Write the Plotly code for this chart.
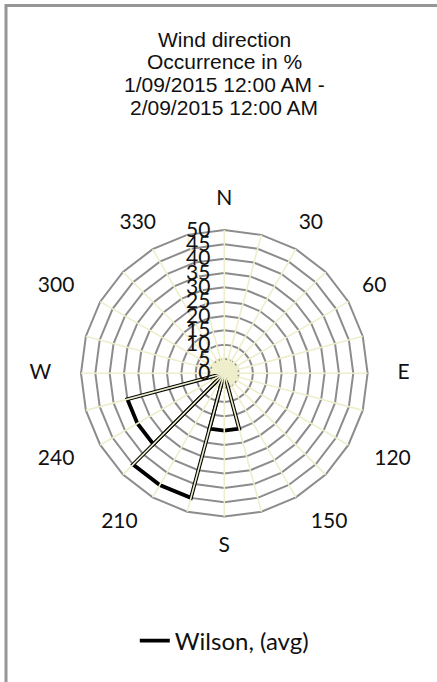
import plotly.graph_objects as go

# ---- data ----
spoke_angles = [str(a) for a in range(0, 360, 15)]           # 24 spokes
label_angles = [str(a) for a in range(0, 360, 30)]
label_text = ["N", "30", "60", "E", "120", "150", "S", "210", "240", "W", "300", "330"]
sector_dirs = [0, 30, 60, 90, 120, 150, 180, 210, 240, 270, 300, 330]
sector_pct = [0, 0, 0, 0, 0, 0, 20, 45, 35, 0, 0, 0]
radial_ticks = [0, 5, 10, 15, 20, 25, 30, 35, 40, 45, 50]
series_name = "Wilson, (avg)"
title_lines = ["Wind direction", "Occurrence in %", "1/09/2015 12:00 AM -", "2/09/2015 12:00 AM"]

# ---- style ----
CREAM = "rgb(238,238,204)"
GRAY = "rgb(140,140,140)"
LABEL_FONT = "Lato"
LABEL_R = 60.4   # radius (axis units) of the compass labels
R_MAX = 62       # radial range kept a little beyond the 50 ring so the labels fit inside it
label_pos = ["middle center", "middle center", "middle center", "middle right", "middle right",
             "middle right", "middle center", "middle left", "middle left", "middle left",
             "middle left", "middle center"]

# build wedge outlines from sector values
r_pts, th_pts = [], []
for d, v in zip(sector_dirs, sector_pct):
    if v <= 0:
        continue
    a0, a1 = (d - 15) % 360, (d + 15) % 360
    r_pts += [0, v, v, v, 0, None]
    th_pts += [str(a0), str(a0), str(d), str(a1), str(a1), None]

fig = go.Figure()

# centre disc (innermost ring)
fig.add_trace(go.Scatterpolar(r=[radial_ticks[1]] * 25, theta=spoke_angles + [spoke_angles[0]],
                              mode="lines", fill="toself", fillcolor=CREAM,
                              line=dict(color=CREAM, width=3), showlegend=False, hoverinfo="skip"))
fig.add_trace(go.Scatterpolar(r=[radial_ticks[1]] * 25, theta=spoke_angles + [spoke_angles[0]],
                              mode="lines", line=dict(color=GRAY, width=1.5, dash="dot"),
                              showlegend=False, hoverinfo="skip"))
# data
fig.add_trace(go.Scatterpolar(r=r_pts, theta=th_pts, mode="lines", name=series_name,
                              line=dict(color="black", width=3.8), connectgaps=False))
# spokes (drawn over the data, as in the original)
sp_r, sp_t = [], []
for a in spoke_angles:
    sp_r += [radial_ticks[0], radial_ticks[-1], None]
    sp_t += [a, a, None]
fig.add_trace(go.Scatterpolar(r=sp_r, theta=sp_t, mode="lines", line=dict(color=CREAM, width=1.6),
                              showlegend=False, hoverinfo="skip", connectgaps=False))
# compass labels
fig.add_trace(go.Scatterpolar(r=[LABEL_R] * len(label_angles), theta=label_angles, text=label_text,
                              mode="text", textposition=label_pos, cliponaxis=False,
                              textfont=dict(family=LABEL_FONT, size=21, color="#111"),
                              showlegend=False, hoverinfo="skip"))

cx, cy, R = 224.3, 373.3, 143.3 * R_MAX / 50
W, H = 437, 682
fig.update_layout(
    width=W, height=H, margin=dict(l=0, r=0, t=0, b=0),
    paper_bgcolor="white", plot_bgcolor="white",
    polar=dict(
        domain=dict(x=[(cx - R) / W, (cx + R) / W], y=[(H - cy - R) / H, (H - cy + R) / H]),
        bgcolor="rgba(0,0,0,0)", gridshape="linear",
        angularaxis=dict(type="category", categoryarray=spoke_angles, rotation=90, direction="clockwise",
                         tickmode="array", tickvals=spoke_angles, showticklabels=False, ticks="",
                         showline=False, showgrid=False),
        radialaxis=dict(range=[0, R_MAX], tickmode="array", tickvals=radial_ticks,
                        ticktext=[str(v) for v in radial_ticks], angle=90, tickangle=90,
                        side="counterclockwise", showline=False,
                        ticks="outside", ticklen=6, tickcolor="rgba(0,0,0,0)",
                        tickfont=dict(family=LABEL_FONT, size=21, color="#111"),
                        showgrid=True, gridcolor=GRAY, gridwidth=1.6),
    ),
    showlegend=True,
    legend=dict(orientation="h", x=cx / W, xanchor="center", y=(H - 641) / H, yanchor="middle",
                font=dict(family=LABEL_FONT, size=24, color="#111"), bgcolor="rgba(0,0,0,0)"),
    shapes=[dict(type="rect", xref="paper", yref="paper", x0=6 / W, y0=-0.05, x1=1.05,
                 y1=1 - 5.5 / H,
                 line=dict(color="rgb(150,150,150)", width=3), fillcolor="rgba(0,0,0,0)")],
)
ys = [39.5, 61.5, 84.5, 107.5]
for t, y in zip(title_lines, ys):
    fig.add_annotation(text=t, xref="paper", yref="paper", x=cx / W, y=1 - y / H, xanchor="center",
                       yanchor="middle", showarrow=False,
                       font=dict(family="Liberation Sans", size=21, color="#111"))

fig.write_html("out.html", config={"displayModeBar": False},
               post_script="document.body.style.margin='0';")
